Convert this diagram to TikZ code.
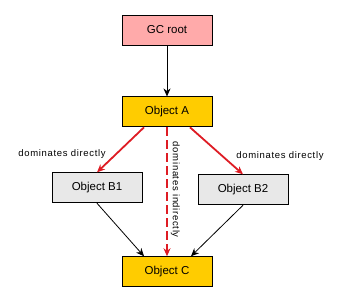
\documentclass[tikz,border=0pt]{standalone}
\usepackage{fontspec}
\setmainfont{Liberation Sans}
\newfontfamily\spacedfont[LetterSpace=7]{Liberation Sans}
\usetikzlibrary{arrows.meta,positioning}
\definecolor{rootpink}{RGB}{255,170,170}
\definecolor{objgold}{RGB}{255,204,0}
\definecolor{objgray}{RGB}{232,232,232}
\definecolor{domred}{RGB}{222,28,36}

\begin{document}
\begin{tikzpicture}[
  x=1pt, y=1pt,
  box/.style={draw, line width=0.9pt, minimum width=90pt, minimum height=30pt, inner sep=2pt, font=\fontsize{11.5}{13}\selectfont},
  a/.style={-{Stealth[length=8pt,width=7pt]}, line width=0.8pt},
  dom/.style={-{Stealth[length=8pt,width=7pt]}, line width=1.8pt, domred},
  lbl/.style={font=\fontsize{9.5}{11}\spacedfont, inner sep=1pt, text=black}
]
\useasboundingbox (0,0) rectangle (341,-299);
\node[box, fill=rootpink] (gc) at (167,-30) {GC root};
\node[box, fill=objgold, below=51pt of gc] (objA) {Object A};
\node[box, fill=objgray, below=45pt of objA, xshift=-70pt] (objB1) {Object B1};
\node[box, fill=objgray, below=47pt of objA, xshift=76pt] (objB2) {Object B2};
\node[box, fill=objgold, below=53pt of objB1, xshift=70pt] (objC) {Object C};
\draw[a] (gc) -- (objA);
\draw[dom] ([xshift=-23pt]objA.south) -- (objB1.north);
\draw[dom] ([xshift=23pt]objA.south) -- (objB2.north);
\draw[dom, dash pattern=on 9pt off 4pt] (objA.south) -- (objC.north)
  node[midway, rotate=-90, anchor=south, lbl, yshift=2pt, xshift=-2pt] (indir) {dominates indirectly};
\draw[a] (objB1.south) -- ([xshift=-23pt]objC.north);
\draw[a] (objB2.south) -- ([xshift=24pt]objC.north);
\node[lbl] (dirB1) at (62,-154) {dominates directly};
\node[lbl] (dirB2) at (280,-156) {dominates directly};
\end{tikzpicture}
\end{document}
